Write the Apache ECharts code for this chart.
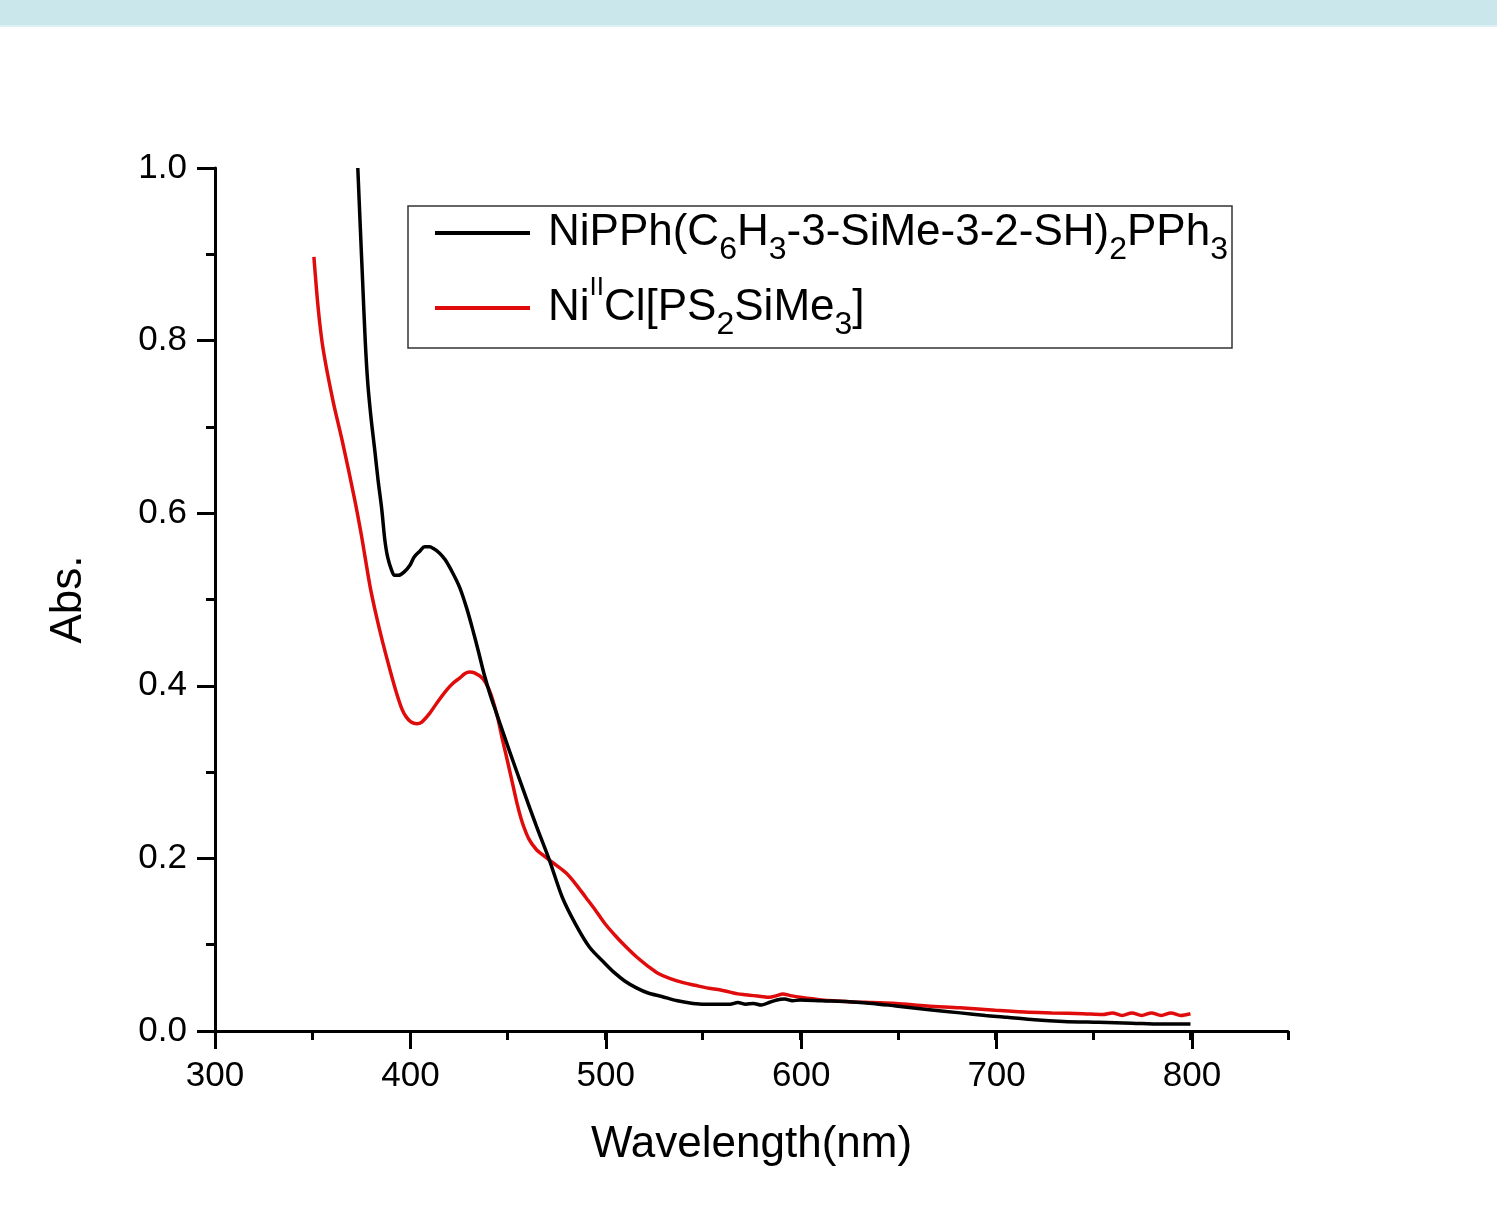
<!DOCTYPE html>
<html>
<head>
<meta charset="utf-8">
<script src="https://cdn.jsdelivr.net/npm/echarts@6/dist/echarts.min.js"></script>
<style>
  html, body { margin: 0; padding: 0; background: #fff; }
  #chart { width: 1497px; height: 1215px; }
</style>
</head>
<body>
<div id="chart"></div>
<script>
// wavelength (nm) / absorbance
var blackWl = [373.2, 374.5, 375.7, 377, 378.3, 380, 381.9, 383.5, 385.5, 387, 388.5, 390.5, 392, 394, 397,
    400, 402, 405, 407.5, 410, 412, 415, 418, 421.8, 425.4, 429, 432, 435, 438, 441, 444.3, 451, 457.6, 464.8,
    471.4, 478, 485, 492, 500, 505, 510, 516, 522, 529, 537, 545, 555, 564, 568, 572, 576, 580, 584, 588,
    592, 596, 600, 611, 625, 637, 649, 665, 682, 695, 706, 720, 735, 753, 770, 785, 800];
var blackAbs = [1.000, 0.930, 0.867, 0.800, 0.751, 0.710, 0.673, 0.640, 0.604, 0.570, 0.549, 0.534, 0.528, 0.528, 0.532,
    0.540, 0.549, 0.556, 0.561, 0.561, 0.559, 0.554, 0.546, 0.531, 0.514, 0.490, 0.466, 0.440, 0.413, 0.390, 0.368, 0.324, 0.282, 0.237,
    0.198, 0.155, 0.123, 0.097, 0.078, 0.067, 0.058, 0.050, 0.044, 0.040, 0.035, 0.032, 0.031, 0.031, 0.033, 0.031, 0.032, 0.030, 0.033, 0.036,
    0.037, 0.035, 0.036, 0.035, 0.034, 0.032, 0.029, 0.025, 0.021, 0.018, 0.016, 0.013, 0.011, 0.010, 0.009, 0.008, 0.008];

var redWl = [350.7, 353, 355.5, 360.4, 365.5, 371.5, 375, 379.5, 383, 386, 389.5, 393, 396, 398, 400.5, 403.4, 406,
    410, 414, 418.7, 422, 425.4, 428, 430.5, 433, 437, 440, 442.3, 445, 447.4, 450, 452.5, 455, 457.6, 461, 464.8,
    468, 471.4, 475, 480, 485, 490, 495, 500, 505, 510, 516, 522, 527, 533, 540, 546, 552, 558, 564, 568, 572,
    576, 580, 584, 588, 591, 595, 600, 611, 625, 637, 649, 665, 682, 700, 715, 729, 745, 755, 760, 765, 770,
    775, 780, 785, 790, 795, 800];
var redAbs = [0.897, 0.835, 0.789, 0.731, 0.681, 0.617, 0.575, 0.515, 0.478, 0.450, 0.420, 0.392, 0.372, 0.364, 0.358, 0.356, 0.358,
    0.368, 0.381, 0.395, 0.403, 0.409, 0.414, 0.416, 0.415, 0.409, 0.398, 0.384, 0.362, 0.337, 0.312, 0.287, 0.262, 0.241, 0.222, 0.210,
    0.204, 0.198, 0.192, 0.183, 0.170, 0.155, 0.140, 0.124, 0.111, 0.099, 0.086, 0.075, 0.067, 0.061, 0.056, 0.053, 0.050, 0.048, 0.045, 0.043, 0.042,
    0.041, 0.040, 0.039, 0.041, 0.043, 0.041, 0.039, 0.036, 0.034, 0.033, 0.032, 0.029, 0.027, 0.024, 0.022, 0.021, 0.020, 0.019, 0.021, 0.018, 0.021,
    0.018, 0.021, 0.018, 0.021, 0.018, 0.020];

var seriesNames = ['NiPPh(C6H3-3-SiMe-3-2-SH)2PPh3', 'NiIICl[PS2SiMe3]'];
var legendLabels = [
    '{gap| }{n|NiPPh(C}{sub|6}{n|H}{sub|3}{n|-3-SiMe-3-2-SH)}{sub|2}{n|PPh}{sub|3}',
    '{gap| }{n|Ni}{sup|II}{n|Cl[PS}{sub|2}{n|SiMe}{sub|3}{n|]}'
];
var lineColors = ['#000000', '#e00c0c'];

var xMajorTicks = [300, 400, 500, 600, 700, 800];

function pairs(xs, ys) {
    var out = [];
    for (var i = 0; i < xs.length; i++) out.push([xs[i], ys[i]]);
    return out;
}

var FONT = '"Liberation Sans", Arial, sans-serif';
var chart = echarts.init(document.getElementById('chart'));

chart.setOption({
    backgroundColor: '#ffffff',
    animation: false,
    graphic: [
        { type: 'rect', shape: { x: 0, y: 0, width: 1497, height: 25 }, style: { fill: '#cae7ec' }, silent: true },
        { type: 'rect', shape: { x: 0, y: 25, width: 1497, height: 2 }, style: { fill: '#dcf0f3' }, silent: true },
        { type: 'rect', shape: { x: 408, y: 206, width: 824, height: 142 },
          style: { fill: 'none', stroke: '#333', lineWidth: 1.5 }, silent: true, z: 5 }
    ],
    legend: {
        orient: 'vertical',
        left: 435,
        top: 211,
        itemGap: 9,
        itemWidth: 95,
        itemHeight: 4,
        icon: 'rect',
        padding: 0,
        data: seriesNames,
        formatter: function (name) {
            return legendLabels[seriesNames.indexOf(name)];
        },
        textStyle: {
            fontFamily: FONT,
            color: '#000',
            rich: {
                gap: { width: 13, fontSize: 10 },
                n: { fontFamily: FONT, fontSize: 44, lineHeight: 66, color: '#000' },
                sub: { fontFamily: FONT, fontSize: 32, lineHeight: 2, verticalAlign: 'bottom', color: '#000' },
                sup: { fontFamily: FONT, fontSize: 26, lineHeight: 50, verticalAlign: 'top', color: '#000' }
            }
        }
    },
    grid: [
        { left: 215, right: 209, top: 168, bottom: 184 },
        { left: 215, right: 305, top: 168, bottom: 184 }
    ],
    xAxis: [
        {
            type: 'value', gridIndex: 0, min: 300, max: 850, interval: 50,
            name: 'Wavelength(nm)', nameLocation: 'middle', nameGap: 92,
            nameTextStyle: { fontFamily: FONT, fontSize: 44, color: '#000' },
            axisLine: { onZero: false, lineStyle: { color: '#000', width: 3 } },
            axisTick: { inside: false, length: 9, lineStyle: { color: '#000', width: 3 } },
            axisLabel: { show: false },
            splitLine: { show: false }
        },
        {
            type: 'value', gridIndex: 1, min: 300, max: 800, interval: 100,
            axisLine: { show: false, onZero: false },
            axisTick: { inside: false, length: 18, lineStyle: { color: '#000', width: 3 } },
            axisLabel: {
                fontFamily: FONT, fontSize: 35, color: '#000', margin: 28,
                formatter: function (v) { return xMajorTicks.indexOf(v) >= 0 ? String(v) : ''; }
            },
            splitLine: { show: false }
        }
    ],
    yAxis: [
        {
            type: 'value', gridIndex: 0, min: 0, max: 1, interval: 0.2,
            name: 'Abs.', nameLocation: 'middle', nameGap: 124,
            nameTextStyle: { fontFamily: FONT, fontSize: 44, color: '#000' },
            axisLine: { show: true, onZero: false, lineStyle: { color: '#000', width: 3 } },
            axisTick: { inside: false, length: 18, lineStyle: { color: '#000', width: 3 } },
            minorTick: { show: true, splitNumber: 2, length: 9, lineStyle: { color: '#000', width: 3 } },
            axisLabel: {
                fontFamily: FONT, fontSize: 35, color: '#000', margin: 28,
                formatter: function (v) { return v.toFixed(1); }
            },
            splitLine: { show: false }
        },
        { type: 'value', gridIndex: 1, min: 0, max: 1, show: false }
    ],
    series: [
        {
            name: seriesNames[0], type: 'line', xAxisIndex: 0, yAxisIndex: 0,
            data: pairs(blackWl, blackAbs), symbol: 'none', smooth: 0.3,
            lineStyle: { color: lineColors[0], width: 3.5 }, itemStyle: { color: lineColors[0] }, z: 3
        },
        {
            name: seriesNames[1], type: 'line', xAxisIndex: 0, yAxisIndex: 0,
            data: pairs(redWl, redAbs), symbol: 'none', smooth: 0.3,
            lineStyle: { color: lineColors[1], width: 3.5 }, itemStyle: { color: lineColors[1] }, z: 2
        }
    ]
});
</script>
</body>
</html>
